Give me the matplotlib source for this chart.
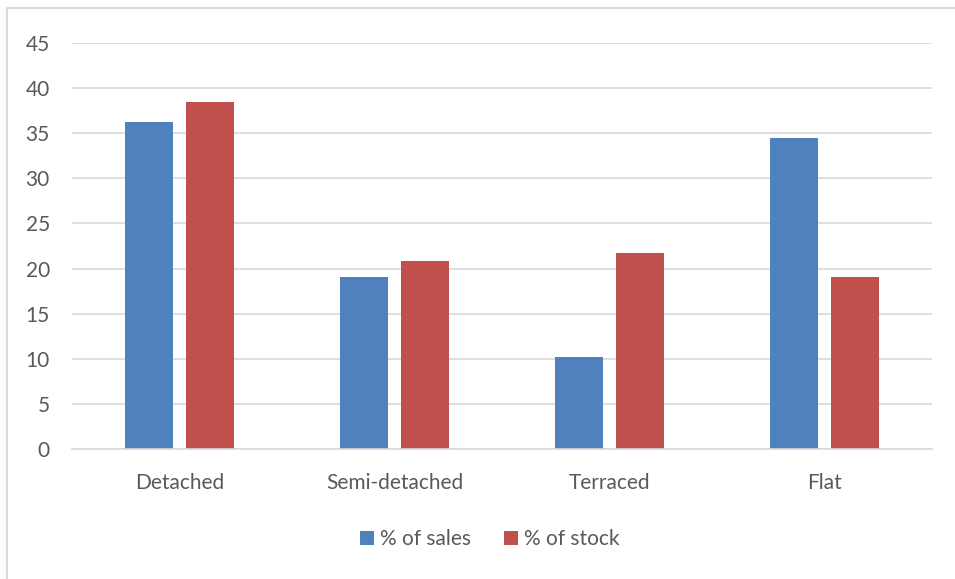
import matplotlib.pyplot as plt
import numpy as np
from matplotlib.lines import Line2D

# dwelling types and percentage shares
types = ['Detached', 'Semi-detached', 'Terraced', 'Flat']
pct_sales = [36.3, 19.1, 10.2, 34.5]
pct_stock = [38.5, 20.8, 21.7, 19.1]
series_names = ['% of sales', '% of stock']

blue = '#4f81bd'
red = '#c0504d'
txt = '#595959'
grid = '#d9d9d9'

plt.rcParams['font.family'] = ['Lato', 'DejaVu Sans']

fig = plt.figure(figsize=(9.55, 5.79), dpi=100)
ax = fig.add_axes([0.0754, 0.2245, 0.9006, 0.7012])

x = np.arange(len(types))
w = 0.223
off = 0.143
ax.bar(x - off, pct_sales, w, color=blue, label=series_names[0], zorder=2)
ax.bar(x + off, pct_stock, w, color=red, label=series_names[1], zorder=2)

ax.set_xlim(-0.5, 3.5)
ax.set_ylim(0, 45)
ax.set_yticks(range(0, 46, 5))
ax.set_xticks(x)
ax.set_xticklabels(types)
ax.yaxis.grid(True, color=grid, linewidth=1.2, zorder=0)
ax.tick_params(axis='both', length=0, labelsize=15, colors=txt)
ax.tick_params(axis='y', pad=16)
ax.tick_params(axis='x', pad=17)
for s in ['top', 'right', 'left']:
    ax.spines[s].set_visible(False)
ax.spines['bottom'].set_color(grid)
ax.spines['bottom'].set_linewidth(1.2)

leg = fig.legend(loc='center', bbox_to_anchor=(0.513, 0.069), ncol=2, frameon=False,
                 fontsize=15, handlelength=0.65, handleheight=0.65, handletextpad=0.3,
                 columnspacing=1.6)
for t in leg.get_texts():
    t.set_color(txt)

# chart title, mostly above the visible area
fig.text(0.5, 1.0065, 'Percentage of sales and stock by dwelling type', ha='center',
         va='baseline', fontsize=15, fontweight='bold', color='black')

# outer chart frame
fig.add_artist(Line2D([0.0073, 0.0073], [0.0, 0.986], color=grid, linewidth=1.5))
fig.add_artist(Line2D([0.0073, 1.0], [0.986, 0.986], color=grid, linewidth=1.5))

fig.savefig('out.png', dpi=100)
